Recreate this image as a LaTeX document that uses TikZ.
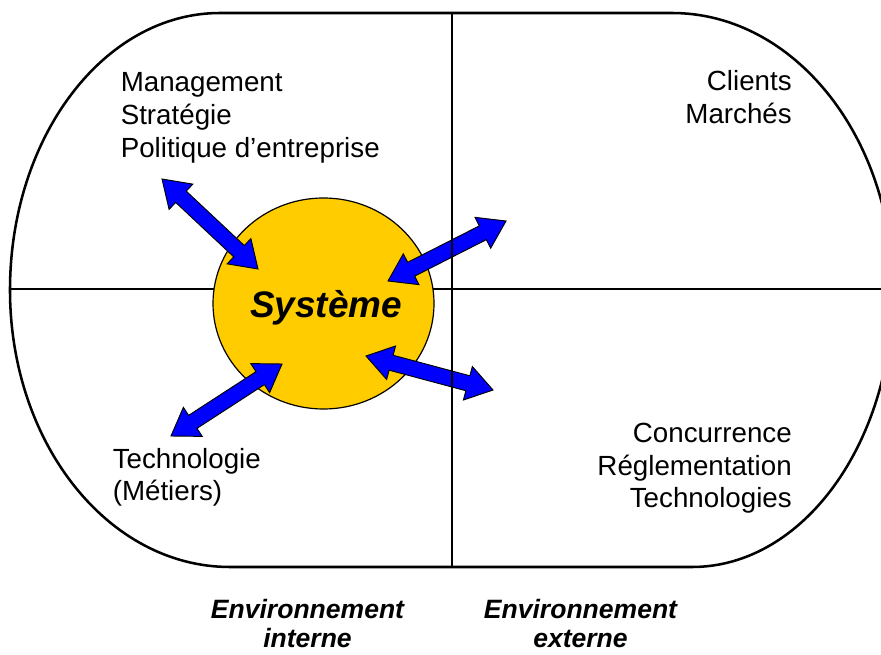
\documentclass[tikz,border=0pt]{standalone}
\usepackage{fontspec}
\setmainfont{Liberation Sans}
\usetikzlibrary{calc,shapes.geometric}
\definecolor{sysyellow}{HTML}{FFCC00}
\definecolor{arrblue}{HTML}{0000FF}
\def\arrHL{19.5pt}
\def\arrHW{13pt}
\def\arrSW{5.8pt}
\newcommand\dblarr[2]{%
  \path[dblarrow] (#1)
    -- ($(#1)!\arrHL!(#2)!\arrHW!90:(#2)$)
    -- ($(#1)!\arrHL!(#2)!\arrSW!90:(#2)$)
    -- ($(#2)!\arrHL!(#1)!\arrSW!-90:(#1)$)
    -- ($(#2)!\arrHL!(#1)!\arrHW!-90:(#1)$)
    -- (#2)
    -- ($(#2)!\arrHL!(#1)!\arrHW!90:(#1)$)
    -- ($(#2)!\arrHL!(#1)!\arrSW!90:(#1)$)
    -- ($(#1)!\arrHL!(#2)!\arrSW!-90:(#2)$)
    -- ($(#1)!\arrHL!(#2)!\arrHW!-90:(#2)$)
    -- cycle;}
\begin{document}
\begin{tikzpicture}[x=0.75pt,y=-0.75pt,
  frame/.style={line width=1.9pt},
  lbl/.style={inner sep=0pt, font=\fontsize{20.8}{25}\selectfont},
  envlbl/.style={inner sep=0pt, font=\fontsize{19.9}{24}\selectfont\bfseries\itshape, anchor=base},
  dblarrow/.style={draw=black, line width=0.7pt, fill=arrblue, line join=miter}]
\useasboundingbox (0,0) rectangle (881,655);
\begin{scope}
  \clip (0,0) rectangle (881,655);
  \draw[frame] (220,13) -- (672,13)
    .. controls (794,13) and (893,137) .. (893,290)
    .. controls (893,443) and (803,567) .. (692,567)
    -- (230,567)
    .. controls (108,567) and (10,443) .. (10,290)
    .. controls (10,137) and (104,13) .. (220,13) -- cycle;
  \draw[frame] (10,289) -- (893,289);
\end{scope}
% system circle
\node[ellipse, draw=black, line width=0.9pt, fill=sysyellow, inner sep=0pt,
      minimum width=165.75pt, minimum height=158.25pt] (sys) at (323.5,303.5) {};
\node[inner sep=0pt, anchor=base, font=\fontsize{27.7}{30}\selectfont\bfseries\itshape] (systxt) at (326,318) {Système};
% arrows
\coordinate (a1) at (162,179);
\coordinate (b1) at (258,269);
\coordinate (a2) at (388,281);
\coordinate (b2) at (506,221);
\coordinate (a3) at (366,356);
\coordinate (b3) at (493,390);
\coordinate (a4) at (282,364);
\coordinate (b4) at (171,436);
\dblarr{a1}{b1}
\dblarr{a2}{b2}
\dblarr{a3}{b3}
\dblarr{a4}{b4}
% vertical divider
\draw[frame] (452,13) -- (452,567);
% labels
\node[lbl, anchor=base west] (m1) at (120.5,92) {Management};
\node[lbl, anchor=base west] (m2) at (120.5,125) {Stratégie};
\node[lbl, anchor=base west] (m3) at (120.5,157.5) {Politique d’entreprise};
\node[lbl, anchor=base east] (c1) at (792,91) {Clients};
\node[lbl, anchor=base east] (c2) at (792,124) {Marchés};
\node[lbl, anchor=base east] (r1) at (792,442) {Concurrence};
\node[lbl, anchor=base east] (r2) at (792,475) {Réglementation};
\node[lbl, anchor=base east] (r3) at (792,507) {Technologies};
\node[lbl, anchor=base west] (t1) at (112.5,468) {Technologie};
\node[lbl, anchor=base west] (t2) at (112.5,500) {(Métiers)};
\node[envlbl] (ei1) at (307.5,618) {Environnement};
\node[envlbl] (ei2) at (307.5,647) {interne};
\node[envlbl] (ee1) at (580.5,618) {Environnement};
\node[envlbl] (ee2) at (580.5,647) {externe};
\end{tikzpicture}
\end{document}
